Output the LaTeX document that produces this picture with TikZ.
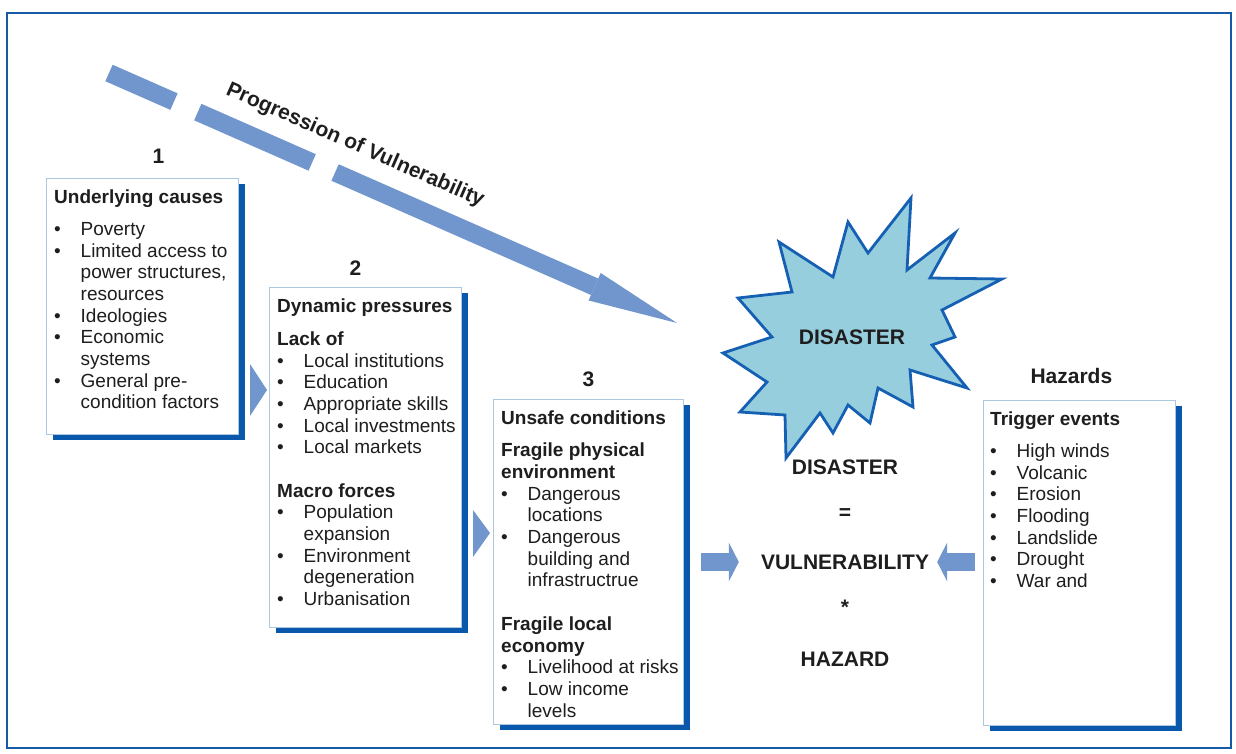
\documentclass[tikz,border=0pt]{standalone}
\usepackage{fontspec}
\setmainfont{Liberation Sans}
\usepackage{tikz}
\usetikzlibrary{arrows.meta,positioning,shadows,calc}

\definecolor{frameblue}{RGB}{22,90,166}
\definecolor{shadowblue}{RGB}{10,88,172}
\definecolor{edgeblue}{RGB}{172,200,224}
\definecolor{arrowblue}{RGB}{112,150,205}
\definecolor{burstfill}{RGB}{150,206,222}
\definecolor{burstline}{RGB}{22,96,180}
\definecolor{ink}{RGB}{30,30,30}

\newcommand{\bul}[1]{\makebox[26.5pt][l]{\textbullet}#1}
\newcommand{\ind}[1]{\hspace*{26.5pt}#1}
\newcommand{\boxfont}{\fontsize{19}{21.65}\selectfont}
\newcommand{\bigfont}{\fontsize{21}{24}\selectfont\bfseries}

\begin{document}
\begin{tikzpicture}[
    x=1pt, y=-1pt,
    card/.style={rectangle, draw=edgeblue, line width=0.8pt, fill=white, anchor=north west, inner sep=0pt,
        drop shadow={shadow xshift=7pt, shadow yshift=-6pt, fill=shadowblue, opacity=1}},
    cardtext/.style={align=left, inner sep=0pt, text=ink, font=\boxfont},
    tag/.style={inner sep=0pt, text=ink, font=\bigfont},
    wedge/.style={fill=arrowblue},
    fatarrow/.style={draw=arrowblue, line width=18pt, -{Triangle[length=10pt,width=39pt,line width'=0pt]}},
    progarrow/.style={draw=arrowblue, line width=18pt, dash pattern=on 71pt off 26pt on 125pt off 25pt on 1000pt,
        -{Triangle[length=90pt,width=30pt,line width'=0pt]}},
    burst/.style={draw=burstline, line width=2.8pt, fill=burstfill, line join=miter}
]
\useasboundingbox (0,0) rectangle (1236,754);
\draw[frameblue, line width=1.6pt] (7,13) rectangle (1231,748);

% Progression of vulnerability
\coordinate (progstart) at (109,73);
\coordinate (progend) at (677,323);
\draw[progarrow] (progstart) -- (progend)
    node[tag, sloped, pos=0.41, above=14pt] (proglabel) {Progression of Vulnerability};

% Boxes
\node[card, minimum width=192pt, minimum height=256pt] (causes) at (46,178) {};
\node[card, minimum width=192pt, minimum height=340pt] (pressures) at (269,287) {};
\node[card, minimum width=190pt, minimum height=325pt] (unsafe) at (493,399) {};
\node[card, minimum width=192pt, minimum height=325pt] (hazards) at (983,400) {};

\node[tag, above=14pt of causes.north, xshift=16pt] (num1) {1};
\node[tag, above=11.5pt of pressures.north, xshift=-10pt] (num2) {2};
\node[tag, above=12.5pt of unsafe.north] (num3) {3};
\node[tag, above=16.5pt of hazards.north, xshift=-8pt] (hazardslabel) {Hazards};

\node[cardtext, below right=11.5pt and 8pt of causes.north west] (causestext) {%
\textbf{Underlying causes}\\[10.5pt]
\bul{Poverty}\\
\bul{Limited access to}\\
\ind{power structures,}\\
\ind{resources}\\
\bul{Ideologies}\\
\bul{Economic}\\
\ind{systems}\\
\bul{General pre-}\\
\ind{condition factors}};

\node[cardtext, below right=12pt and 8pt of pressures.north west] (pressurestext) {%
\textbf{Dynamic pressures}\\[10.8pt]
\textbf{Lack of}\\
\bul{Local institutions}\\
\bul{Education}\\
\bul{Appropriate skills}\\
\bul{Local investments}\\
\bul{Local markets}\\[22pt]
\textbf{Macro forces}\\
\bul{Population}\\
\ind{expansion}\\
\bul{Environment}\\
\ind{degeneration}\\
\bul{Urbanisation}};

\node[cardtext, below right=11.5pt and 8pt of unsafe.north west] (unsafetext) {%
\textbf{Unsafe conditions}\\[10.8pt]
\textbf{Fragile physical}\\
\textbf{environment}\\
\bul{Dangerous}\\
\ind{locations}\\
\bul{Dangerous}\\
\ind{building and}\\
\ind{infrastructrue}\\[22pt]
\textbf{Fragile local}\\
\textbf{economy}\\
\bul{Livelihood at risks}\\
\bul{Low income}\\
\ind{levels}};

\node[cardtext, below right=11.5pt and 7pt of hazards.north west] (hazardstext) {%
\textbf{Trigger events}\\[10.3pt]
\bul{High winds}\\
\bul{Volcanic}\\
\bul{Erosion}\\
\bul{Flooding}\\
\bul{Landslide}\\
\bul{Drought}\\
\bul{War and}};

% Wedges between boxes
\fill[wedge] (250,364) -- (267,390) -- (250,416) -- cycle;
\fill[wedge] (473,510) -- (490,533) -- (473,557) -- cycle;

% Disaster burst
\draw[burst] (911,198) -- (907,270) -- (955,233) -- (930,278) -- (1002,279) -- (942,310)
    -- (955,337) -- (932,345) -- (967,388) -- (910,370) -- (913,407) -- (878,388)
    -- (870,423) -- (848,405) -- (833,433) -- (820,413) -- (786,458) -- (785,415)
    -- (740,412) -- (767,382) -- (723,353) -- (772,337) -- (738,298) -- (792,292)
    -- (779,242) -- (833,277) -- (848,222) -- (868,253) -- cycle;
\node[tag] (disaster) at (852,337) {DISASTER};

% Equation
\node[tag] (eqdisaster) at (845,467) {DISASTER};
\node[tag] (equals) at (845,514) {=};
\node[tag] (vuln) at (845,562) {VULNERABILITY};
\node[tag] (times) at (845,607) {*};
\node[tag] (hazard) at (845,659) {HAZARD};

\draw[fatarrow] ($(unsafe.east |- vuln.west)+(17pt,0)$) -- ($(vuln.west)+(-22pt,0)$);
\draw[fatarrow] ($(hazards.west |- vuln.east)+(-8pt,0)$) -- ($(vuln.east)+(8pt,0)$);
\end{tikzpicture}
\end{document}
